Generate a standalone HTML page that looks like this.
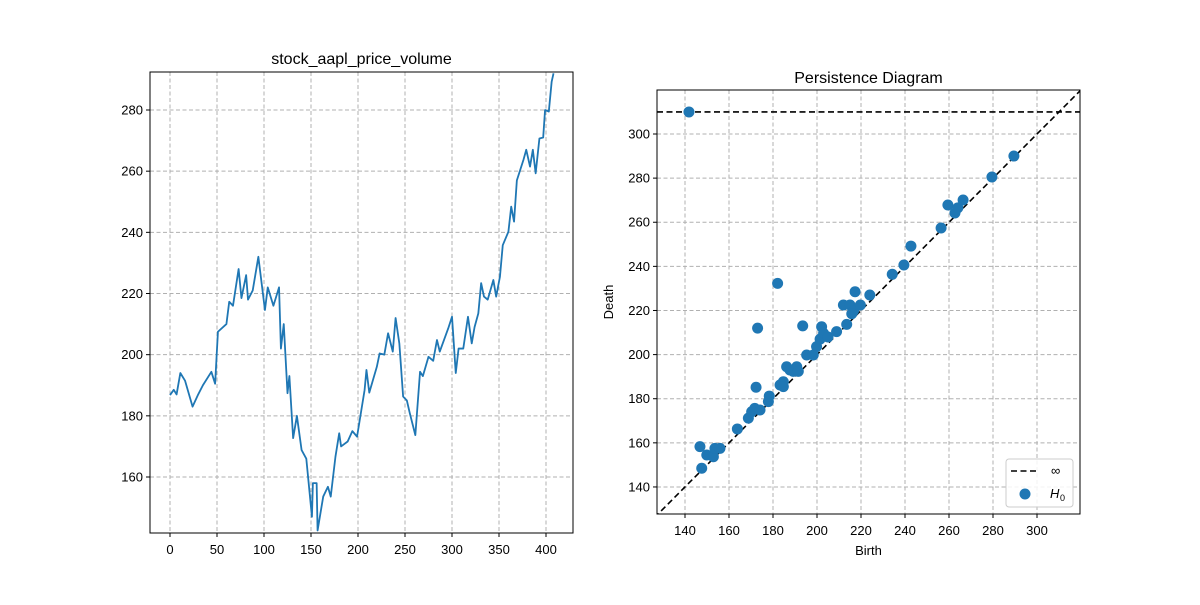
<!DOCTYPE html>
<html><head><meta charset="utf-8"><style>
body{margin:0;background:#fff}
svg text{font-family:"Liberation Sans","DejaVu Sans",sans-serif;fill:#000}
</style></head><body>
<svg id="c" width="1200" height="600" xmlns="http://www.w3.org/2000/svg">
<defs>
<clipPath id="cl"><rect x="150" y="72" width="423" height="461"/></clipPath>
<clipPath id="cr"><rect x="657" y="90" width="423" height="424"/></clipPath>
</defs>
</svg>
<script>
const priceIdx=[0,4,7,11,16,24,30,35,44,48,51,60,63,67,73,76,81,83,88,94,101,104,110,116,118,121,125,127,131,135,140,145,151,152,156,157,163,168,171,176,180,182,189,194,199,203,207,209,212,220,223,228,232,237,240,244,248,252,255,261,266,269,275,280,284,287,296,300,304,307,312,317,321,324,328,331,334,338,344,347,351,354,360,363,366,369,376,379,383,386,389,393,397,399,403,406,408];
const priceVal=[186.8,188.5,187,194,191.5,183,187,190,194.4,190.5,207.5,210,217.3,216,228,218.5,226,218,221,232,214.6,222,216,222,202,210,187.4,193,172.7,180,168.8,166,147,158,158,142.5,153.6,156.8,153.6,166.6,174.3,170,171.6,175,173.2,180.8,188.4,195,187.6,196,200.4,200,207,201,212,203.6,186.3,185,181,173.7,194.4,193,199.3,198,204.8,201,208.6,212.4,194,202,202,212.4,203.7,209,213.5,223.4,219,218,224.4,219,225.5,235.8,240.2,248.4,243.5,257,263.7,267,261.5,267,259.3,270.7,271,280,279.5,289.2,292];
const leftXTicks=[0,50,100,150,200,250,300,350,400];
const leftYTicks=[160,180,200,220,240,260,280];
const births=[141.8,146.8,147.6,149.9,152.9,153.6,155.9,163.8,168.8,170.3,171.7,174.1,177.9,178.3,183.2,184.7,186.2,187.7,189.2,190.8,191.5,184.7,195.3,198.3,199.8,201.4,202.1,203,205,208.9,213.5,212,215,217.3,216.6,219.7,224,215.8,172.3,173,182.1,193.5,234.2,239.5,242.7,256.4,259.5,262.7,264,266.4,279.5,289.5];
const deaths=[310,158.3,148.5,154.5,153.7,157.5,157.5,166.3,171.2,174.1,175.6,174.9,178.7,181.2,186.2,187.7,194.5,193,192.4,194.5,192.4,185.5,199.8,199.8,203.6,207,212.6,209.6,208,210.4,213.7,222.5,222.5,228.5,219.8,222.5,227,218.5,185.2,212,232.3,213,236.4,240.6,249.2,257.4,267.8,264.2,266.5,270.1,280.5,290];
const rightTicks=[140,160,180,200,220,240,260,280,300];
const infDeath=310;

const svg=document.getElementById('c');
const NS='http://www.w3.org/2000/svg';
function el(t,a,p){const e=document.createElementNS(NS,t);for(const k in a)e.setAttribute(k,a[k]);(p||svg).appendChild(e);return e;}
const lx=v=>170+v*0.94, ly=v=>477-(v-160)*3.0583;
const rx=v=>685+(v-140)*2.2, ry=v=>134+(300-v)*2.206;
const grid='#b0b0b0';
const RL=657;

let g=el('g',{});


leftXTicks.forEach(t=>{const x=lx(t);
 const gl=el('line',{x1:x,x2:x,y1:72,y2:533,stroke:grid,'stroke-dasharray':'4,2.5','stroke-width':1},g);
 
 el('line',{x1:x,x2:x,y1:533,y2:537,stroke:'#000'},g);
 const tx=el('text',{x:x,y:554,'font-size':13,'text-anchor':'middle'},g);tx.textContent=t;
 });
leftYTicks.forEach(t=>{const y=ly(t);
 const gl=el('line',{x1:150,x2:573,y1:y,y2:y,stroke:grid,'stroke-dasharray':'4,2.5','stroke-width':1},g);
 
 el('line',{x1:146,x2:150,y1:y,y2:y,stroke:'#000'},g);
 const tx=el('text',{x:143,y:y+4.5,'font-size':13,'text-anchor':'end'},g);tx.textContent=t;
 });
const pl=el('polyline',{points:priceIdx.map((v,i)=>lx(v)+','+ly(priceVal[i])).join(' '),fill:'none',stroke:'#1f77b4','stroke-width':1.8,'stroke-linejoin':'round','clip-path':'url(#cl)'},g);

el('rect',{x:150,y:72,width:423,height:461,fill:'none',stroke:'#000','stroke-width':1},g);
const t1=el('text',{x:361.5,y:64,'font-size':16,'text-anchor':'middle'},g);t1.textContent='stock_aapl_price_volume';


let h=el('g',{});


rightTicks.forEach(t=>{const x=rx(t),y=ry(t);
 const gx=el('line',{x1:x,x2:x,y1:90,y2:514,stroke:grid,'stroke-dasharray':'4,2.5'},h);
 
 const gy=el('line',{x1:RL,x2:1080,y1:y,y2:y,stroke:grid,'stroke-dasharray':'4,2.5'},h);
 
 el('line',{x1:x,x2:x,y1:514,y2:518,stroke:'#000'},h);
 el('line',{x1:RL-4,x2:RL,y1:y,y2:y,stroke:'#000'},h);
 const a=el('text',{x:x,y:535,'font-size':13,'text-anchor':'middle'},h);a.textContent=t;
 
 const b=el('text',{x:RL-7,y:y+4.5,'font-size':13,'text-anchor':'end'},h);b.textContent=t;
 });
const diag=el('line',{x1:rx(120),y1:ry(120),x2:rx(330),y2:ry(330),stroke:'#000','stroke-width':1.6,'stroke-dasharray':'6,3.5','clip-path':'url(#cr)'},h);

const inf=el('line',{x1:RL,x2:1080,y1:ry(infDeath),y2:ry(infDeath),stroke:'#000','stroke-width':1.6,'stroke-dasharray':'6,3.5'},h);

births.forEach((b,i)=>{const c=el('circle',{cx:rx(b),cy:ry(deaths[i]),r:5.5,fill:'#1f77b4','clip-path':'url(#cr)'},h);
 });
el('rect',{x:RL,y:90,width:1080-RL,height:424,fill:'none',stroke:'#000'},h);
const t2=el('text',{x:868.5,y:83,'font-size':16,'text-anchor':'middle'},h);t2.textContent='Persistence Diagram';

const xl=el('text',{x:868.5,y:555,'font-size':13,'text-anchor':'middle'},h);xl.textContent='Birth';

const yl=el('text',{x:0,y:0,'font-size':13,'text-anchor':'middle',transform:'translate(613,302) rotate(-90)'},h);yl.textContent='Death';


const lg=el('g',{},h);


el('rect',{x:1006,y:459,width:67,height:48,rx:3,fill:'#fff','fill-opacity':0.85,stroke:'#ccc'},lg);
const e1=el('line',{x1:1011,x2:1039,y1:471,y2:471,stroke:'#000','stroke-width':1.6,'stroke-dasharray':'6,3.5'},lg);

const lt1=el('text',{x:1051,y:475,'font-size':13},lg);lt1.textContent='∞';

const e2=el('circle',{cx:1025,cy:494,r:5.5,fill:'#1f77b4'},lg);

const lt2=el('text',{x:1050,y:498,'font-size':13,'font-style':'italic'},lg);lt2.textContent='H';

const sub=el('text',{x:1060,y:501,'font-size':9},lg);sub.textContent='0';

</script>
</body></html>
